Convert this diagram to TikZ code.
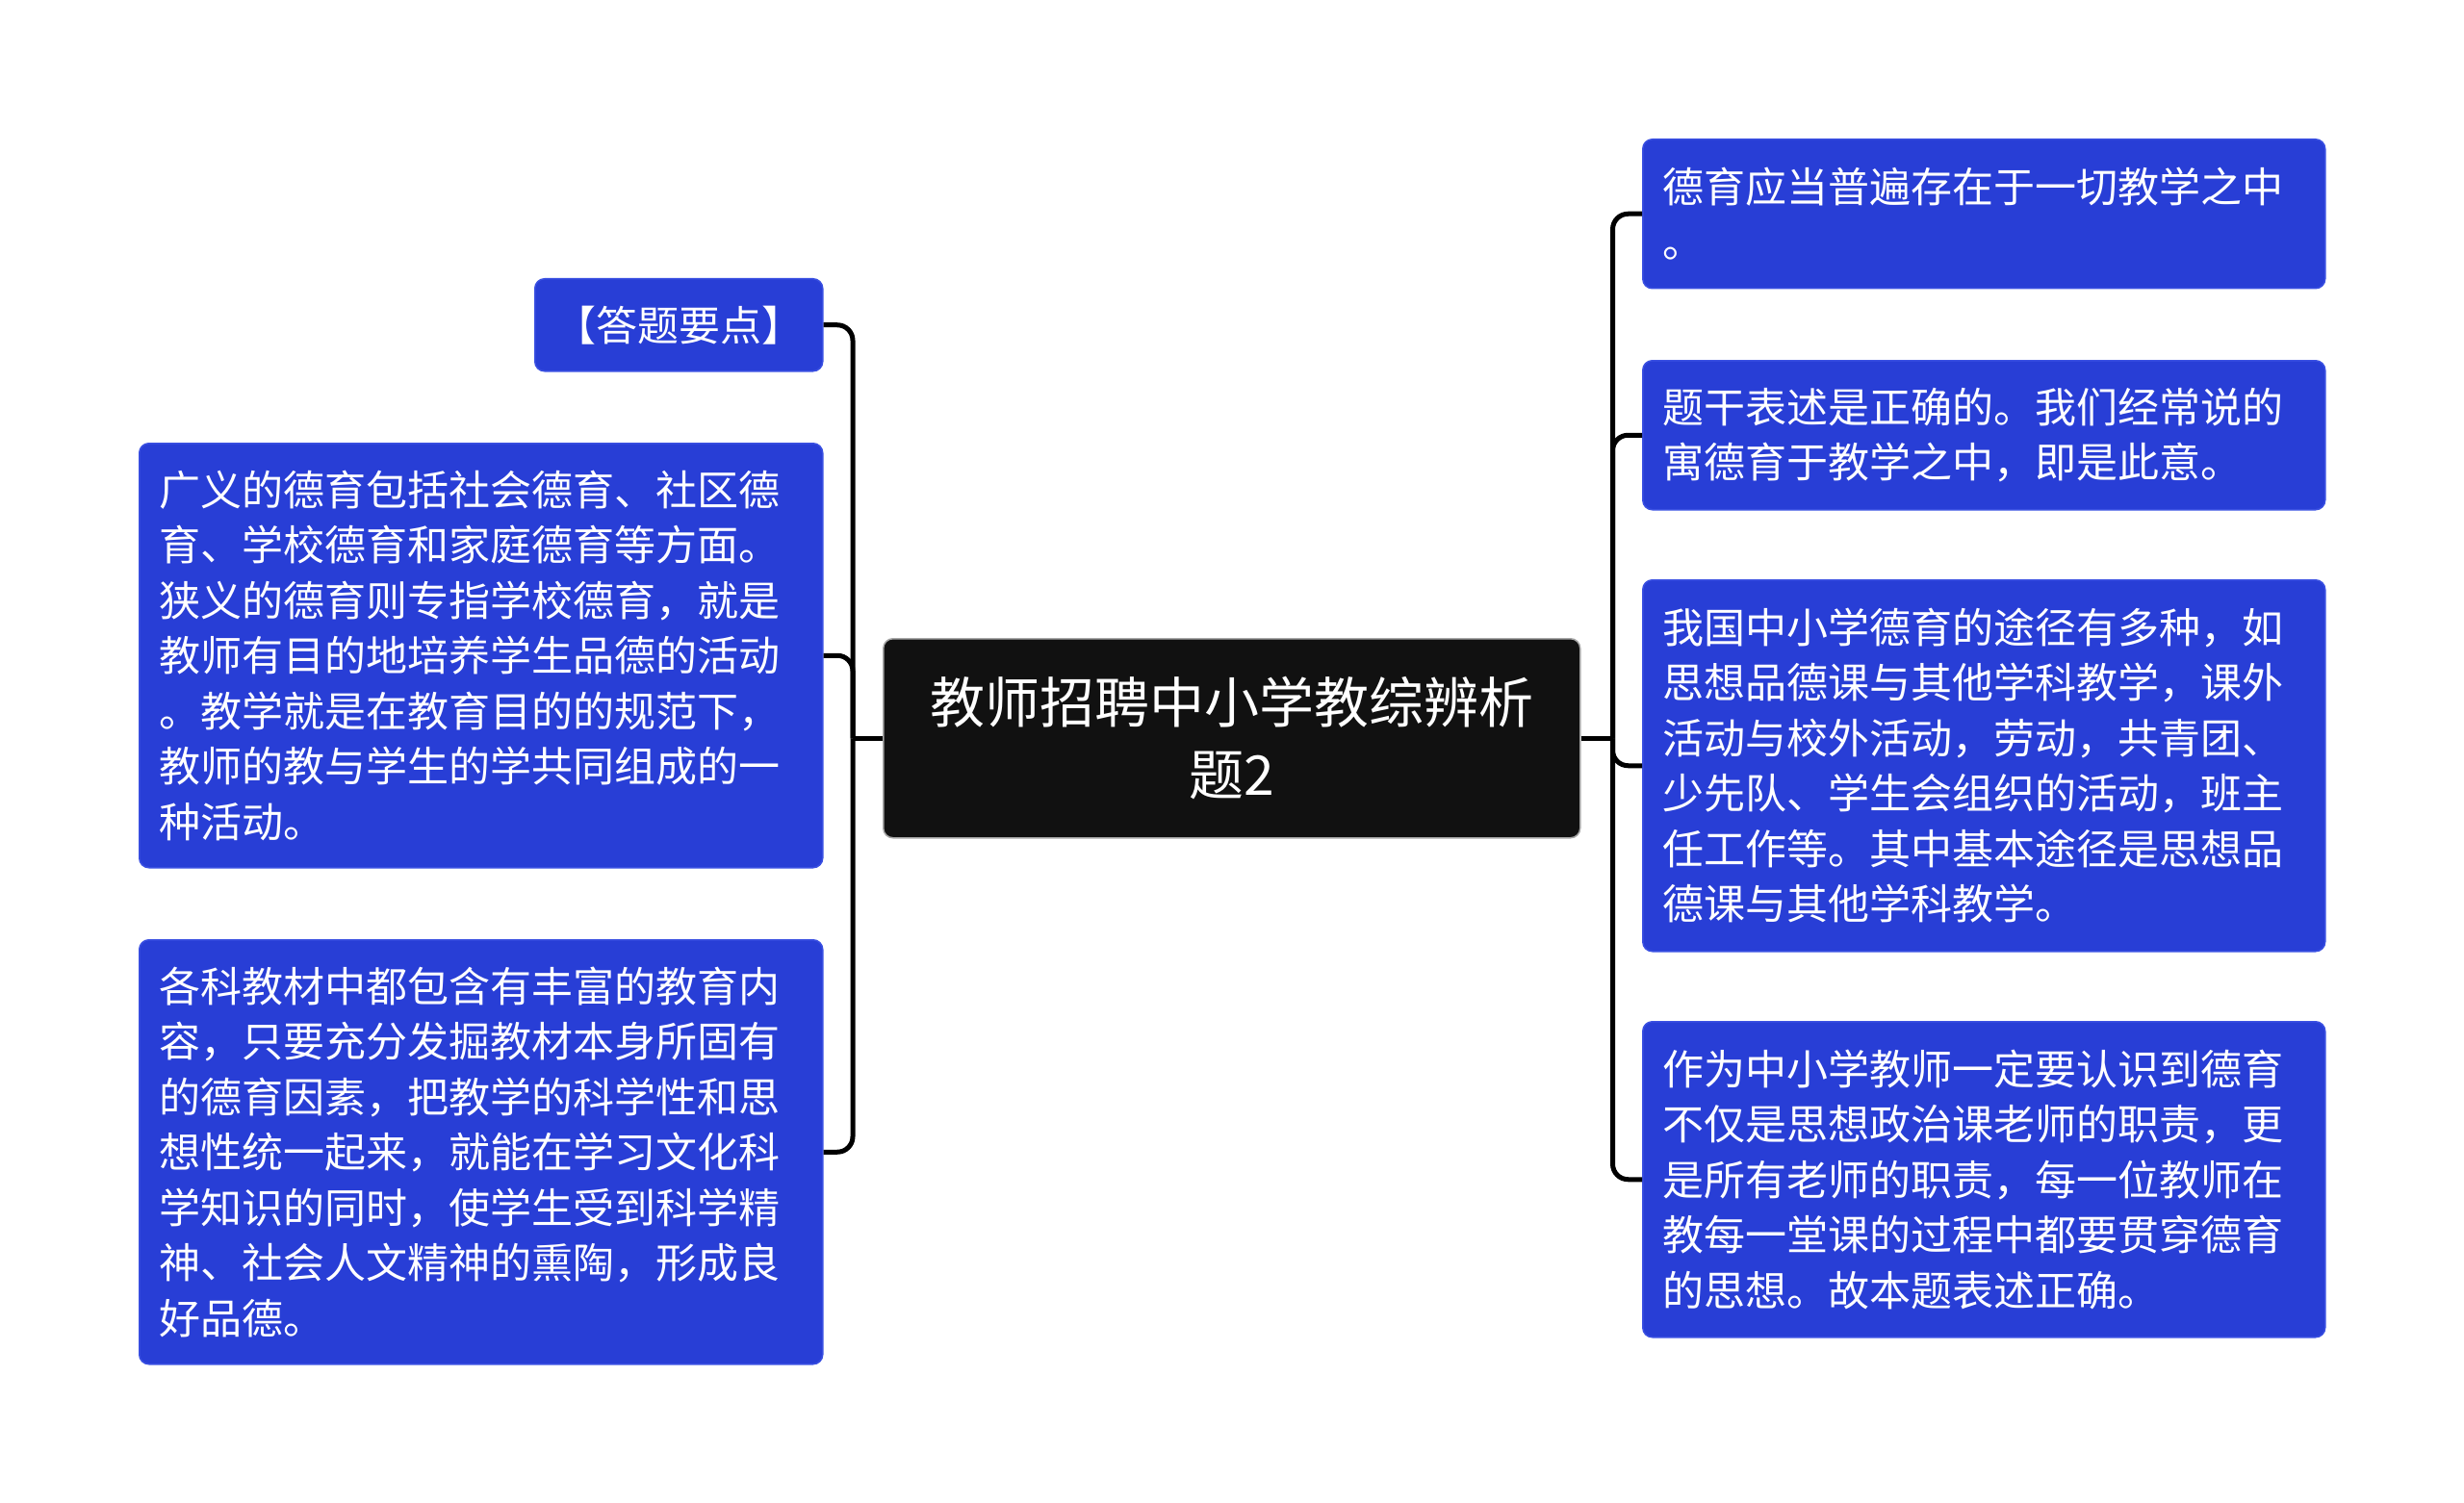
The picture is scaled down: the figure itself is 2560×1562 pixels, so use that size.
\documentclass[tikz,border=0pt]{standalone}
\usepackage{fontspec}
\setmainfont{Noto Sans CJK SC}
\definecolor{boxblue}{RGB}{40,62,214}
\definecolor{boxedge}{RGB}{58,80,226}
\definecolor{rootfill}{RGB}{17,17,17}
\begin{document}
\begin{tikzpicture}[x=1pt,y=-1pt,
  leaf/.style={draw=boxedge,line width=1.5pt,fill=boxblue,rounded corners=10pt,
    text=white,align=left,anchor=north west,inner xsep=21pt,inner ysep=0pt,
    font=\fontsize{43}{57.5}\selectfont},
  rootbox/.style={draw=gray!70,line width=1.5pt,fill=rootfill,rounded corners=10pt,
    text=white,align=center,anchor=north west,inner xsep=21pt,inner ysep=0pt,
    text width=682pt,minimum height=207pt,font=\fontsize{57}{75}\selectfont},
  conn/.style={draw=black,line width=5pt,rounded corners=16pt}
]
\useasboundingbox[fill=white] (0,0) rectangle (2560,1562);

\node[rootbox] (root) at (917,663) {教师招聘中小学教综辨析\\题2};

\node[leaf,align=center,text width=259pt,inner xsep=20pt,minimum height=96pt] (L1) at (555,289) {【答题要点】};
\node[leaf,text width=668pt,minimum height=441pt] (L2) at (144,460) {广义的德育包括社会德育、社区德\\育、学校德育和家庭德育等方面。\\狭义的德育则专指学校德育，就是\\教师有目的地培养学生品德的活动\\。教学就是在教育目的的规范下，\\教师的教与学生的学共同组成的一\\种活动。};
\node[leaf,text width=668pt,minimum height=441pt] (L3) at (144,976) {各科教材中都包含有丰富的教育内\\容，只要充分发掘教材本身所固有\\的德育因素，把教学的科学性和思\\想性统一起来，就能在学习文化科\\学知识的同时，使学生受到科学精\\神、社会人文精神的熏陶，形成良\\好品德。};

\node[leaf,text width=667pt,minimum height=155pt] (R1) at (1706,144) {德育应当普遍存在于一切教学之中\\。};
\node[leaf,text width=667pt,minimum height=155pt] (R2) at (1706,374) {题干表述是正确的。我们经常说的\\寓德育于教学之中，即是此意。};
\node[leaf,text width=667pt,minimum height=386pt] (R3) at (1706,602) {我国中小学德育的途径有多种，如\\思想品德课与其他学科教学，课外\\活动与校外活动，劳动，共青团、\\少先队、学生会组织的活动，班主\\任工作等。其中基本途径是思想品\\德课与其他学科教学。};
\node[leaf,text width=667pt,minimum height=328pt] (R4) at (1706,1061) {作为中小学教师一定要认识到德育\\不仅是思想政治课老师的职责，更\\是所有老师的职责，每一位教师在\\教每一堂课的过程中都要贯穿德育\\的思想。故本题表述正确。};

\draw[conn] (root.west) -- ++(-31,0) coordinate (jl);
\draw[conn] (root.east) -- ++(33,0) coordinate (jr);
\foreach \c in {L1,L2,L3} \draw[conn] (jl) |- (\c.east);
\foreach \c in {R1,R2,R3,R4} \draw[conn] (jr) |- (\c.west);
\end{tikzpicture}
\end{document}
